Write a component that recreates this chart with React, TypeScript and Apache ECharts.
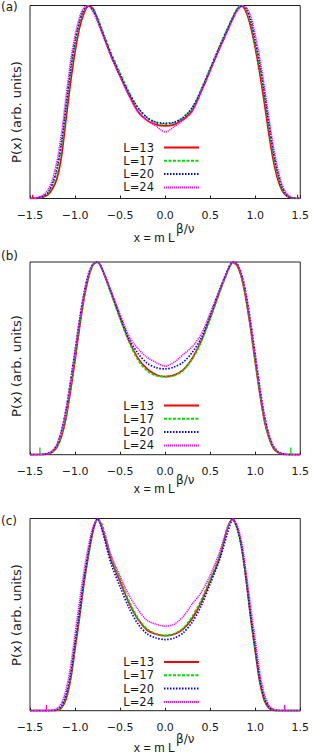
import React, { useEffect, useRef } from "react";
import * as echarts from "echarts";

// x positions shared by every curve (m L^{beta/nu})
const xGrid = [
  -1.5, -1.45, -1.4, -1.35, -1.3, -1.25, -1.2, -1.15, -1.1, -1.05, -1.0, -0.95, -0.9, -0.85, -0.8, -0.75,
  -0.7, -0.6, -0.5, -0.4, -0.3, -0.2, -0.1, 0, 0.1, 0.2, 0.3, 0.4, 0.5, 0.6, 0.7,
  0.75, 0.8, 0.85, 0.9, 0.95, 1.0, 1.05, 1.1, 1.15, 1.2, 1.25, 1.3, 1.35, 1.4, 1.45, 1.5,
];

const seriesNames = ["L=13", "L=17", "L=20", "L=24"];
const panelLabels = ["(a)", "(b)", "(c)"];

// Panel (a)
const a13 = [0, 0, 0.003, 0.008, 0.02, 0.05, 0.105, 0.22, 0.41, 0.6, 0.76, 0.885, 0.96, 0.998, 0.985, 0.93, 0.865, 0.74, 0.635, 0.535, 0.45, 0.405, 0.383, 0.376, 0.383, 0.41, 0.455, 0.555, 0.665, 0.775, 0.88, 0.935, 0.98, 0.998, 0.965, 0.89, 0.78, 0.65, 0.5, 0.34, 0.2, 0.1, 0.04, 0.012, 0.003, 0, 0];
const a17 = [0, 0, 0.004, 0.012, 0.028, 0.07, 0.14, 0.27, 0.46, 0.65, 0.8, 0.91, 0.975, 1.0, 0.98, 0.935, 0.875, 0.755, 0.65, 0.55, 0.468, 0.418, 0.393, 0.385, 0.392, 0.418, 0.468, 0.565, 0.675, 0.785, 0.89, 0.94, 0.985, 1.0, 0.975, 0.91, 0.8, 0.68, 0.535, 0.375, 0.23, 0.12, 0.05, 0.016, 0.004, 0, 0];
const a20 = [0, 0.001, 0.005, 0.014, 0.032, 0.08, 0.16, 0.295, 0.48, 0.67, 0.815, 0.92, 0.98, 0.998, 0.975, 0.925, 0.865, 0.745, 0.64, 0.545, 0.47, 0.42, 0.395, 0.39, 0.395, 0.42, 0.47, 0.56, 0.67, 0.78, 0.885, 0.935, 0.975, 0.998, 0.985, 0.925, 0.82, 0.7, 0.555, 0.395, 0.25, 0.135, 0.058, 0.02, 0.005, 0.001, 0];
const a24 = [0, 0.002, 0.008, 0.02, 0.045, 0.1, 0.195, 0.34, 0.53, 0.71, 0.845, 0.94, 0.99, 0.995, 0.965, 0.915, 0.855, 0.735, 0.63, 0.53, 0.445, 0.405, 0.375, 0.345, 0.372, 0.405, 0.45, 0.55, 0.66, 0.77, 0.875, 0.925, 0.97, 0.995, 0.99, 0.945, 0.85, 0.73, 0.585, 0.425, 0.275, 0.155, 0.07, 0.025, 0.007, 0.002, 0];
const spikeXA = [-1.47, 1.47];
const spikeYA = [0.02, 0.02];

// Panel (b)
const b13 = [0, 0, 0, 0.001, 0.004, 0.013, 0.04, 0.095, 0.19, 0.33, 0.49, 0.66, 0.81, 0.92, 0.985, 1.0, 0.965, 0.84, 0.71, 0.59, 0.5, 0.445, 0.415, 0.405, 0.413, 0.44, 0.5, 0.59, 0.71, 0.84, 0.96, 0.998, 0.98, 0.915, 0.8, 0.65, 0.48, 0.32, 0.18, 0.09, 0.035, 0.012, 0.003, 0.001, 0, 0, 0];
const b17 = [0, 0, 0, 0.001, 0.005, 0.015, 0.045, 0.105, 0.205, 0.35, 0.51, 0.675, 0.82, 0.925, 0.985, 0.998, 0.96, 0.835, 0.705, 0.585, 0.49, 0.435, 0.41, 0.405, 0.41, 0.438, 0.495, 0.585, 0.705, 0.835, 0.955, 0.995, 0.985, 0.92, 0.81, 0.66, 0.49, 0.33, 0.19, 0.095, 0.04, 0.014, 0.004, 0.001, 0, 0, 0];
const b20 = [0, 0, 0.001, 0.002, 0.007, 0.02, 0.055, 0.125, 0.235, 0.38, 0.54, 0.7, 0.84, 0.94, 0.99, 1.0, 0.965, 0.845, 0.72, 0.6, 0.525, 0.475, 0.452, 0.445, 0.455, 0.48, 0.53, 0.605, 0.725, 0.85, 0.965, 1.0, 0.99, 0.935, 0.83, 0.685, 0.52, 0.355, 0.21, 0.11, 0.047, 0.017, 0.005, 0.001, 0, 0, 0];
const b24 = [0, 0, 0.001, 0.002, 0.007, 0.02, 0.055, 0.125, 0.235, 0.38, 0.54, 0.7, 0.84, 0.935, 0.99, 0.998, 0.965, 0.85, 0.73, 0.615, 0.55, 0.505, 0.478, 0.46, 0.48, 0.52, 0.56, 0.625, 0.735, 0.85, 0.96, 0.998, 0.99, 0.93, 0.825, 0.68, 0.515, 0.35, 0.205, 0.105, 0.045, 0.016, 0.005, 0.001, 0, 0, 0];
const spikeXB = [-1.39, 1.395];
const spikeYB = [0.037, 0.037];

// Panel (c)
const c13 = [0, 0, 0, 0, 0, 0, 0.001, 0.015, 0.06, 0.16, 0.32, 0.485, 0.665, 0.81, 0.935, 0.998, 0.95, 0.785, 0.672, 0.56, 0.475, 0.42, 0.398, 0.39, 0.398, 0.425, 0.48, 0.565, 0.675, 0.79, 0.96, 0.998, 0.95, 0.85, 0.677, 0.48, 0.31, 0.15, 0.055, 0.015, 0.002, 0, 0, 0, 0, 0, 0];
const c17 = [0, 0, 0, 0, 0, 0, 0.002, 0.02, 0.075, 0.175, 0.34, 0.505, 0.68, 0.82, 0.94, 0.995, 0.97, 0.8, 0.685, 0.57, 0.48, 0.425, 0.4, 0.392, 0.4, 0.43, 0.49, 0.575, 0.685, 0.8, 0.965, 0.995, 0.945, 0.84, 0.68, 0.49, 0.32, 0.165, 0.065, 0.02, 0.004, 0, 0, 0, 0, 0, 0];
const c20 = [0, 0, 0, 0, 0, 0.002, 0.006, 0.025, 0.085, 0.19, 0.355, 0.52, 0.69, 0.83, 0.945, 0.998, 0.94, 0.765, 0.645, 0.535, 0.45, 0.4, 0.378, 0.37, 0.378, 0.405, 0.46, 0.545, 0.66, 0.78, 0.935, 0.995, 0.95, 0.85, 0.69, 0.5, 0.33, 0.17, 0.07, 0.022, 0.005, 0.001, 0, 0, 0, 0, 0];
const c24 = [0, 0, 0, 0, 0, 0.003, 0.012, 0.04, 0.11, 0.23, 0.4, 0.57, 0.73, 0.86, 0.955, 0.995, 0.955, 0.81, 0.7, 0.6, 0.525, 0.47, 0.45, 0.44, 0.45, 0.49, 0.555, 0.615, 0.705, 0.82, 0.96, 0.998, 0.965, 0.875, 0.72, 0.545, 0.37, 0.205, 0.09, 0.03, 0.008, 0.002, 0, 0, 0, 0, 0];
const spikeXC = [-1.318, 1.326];
const spikeYC = [0.03, 0.03];

const panelData = [
  { ys: [a13, a17, a20, a24], spikeX: spikeXA, spikeY: spikeYA, spikeSeries: 0 },
  { ys: [b13, b17, b20, b24], spikeX: spikeXB, spikeY: spikeYB, spikeSeries: 1 },
  { ys: [c13, c17, c20, c24], spikeX: spikeXC, spikeY: spikeYC, spikeSeries: 3 },
];

// layout (pixels)
const layout = [
  { top: 5.5, height: 193, legendTop: 141, yLabelY: 112, tagY: 7, xBaseY: 238, xSupY: 229 },
  { top: 262, height: 192.7, legendTop: 399, yLabelY: 366, tagY: 256, xBaseY: 489, xSupY: 480 },
  { top: 518.5, height: 192.2, legendTop: 655.5, yLabelY: 615, tagY: 521, xBaseY: 748, xSupY: 739 },
];

const styles = [
  { color: "#ff0000", type: "solid" as any, width: 1.7 },
  { color: "#00dd00", type: [3, 1.5] as any, width: 1.7 },
  { color: "#0000ff", type: [1.5, 1.5] as any, width: 1.7 },
  { color: "#ff00ff", type: [1.2, 0.8] as any, width: 1.5 },
];

const FONT = "DejaVu Sans";
const INK = "#1a1a1a";

function fmt(v: number) {
  return v.toFixed(1).replace("-", "\u2212");
}

export default function App() {
  const ref = useRef<HTMLDivElement>(null);
  useEffect(() => {
    if (!ref.current) return;
    const chart = echarts.init(ref.current, undefined, { renderer: "svg" });
    const grids: any[] = [];
    const xAxes: any[] = [];
    const yAxes: any[] = [];
    const series: any[] = [];
    const legends: any[] = [];
    const graphics: any[] = [];

    panelData.forEach((p, i) => {
      const L = layout[i];
      grids.push({
        left: 30,
        width: 272,
        top: L.top,
        height: L.height,
        show: true,
        borderColor: "#222",
        borderWidth: 1,
        backgroundColor: "transparent",
      });
      xAxes.push({
        type: "value",
        gridIndex: i,
        min: -1.5,
        max: 1.5,
        interval: 0.5,
        axisLine: { show: false },
        axisTick: { show: true, inside: true, length: 3, lineStyle: { color: "#222", width: 1 } },
        axisLabel: { margin: 11, formatter: fmt, fontFamily: FONT, fontSize: 11, color: INK },
        splitLine: { show: false },
      });
      yAxes.push({
        type: "value",
        gridIndex: i,
        min: 0,
        max: 1,
        axisLine: { show: false },
        axisTick: { show: false },
        axisLabel: { show: false },
        splitLine: { show: false },
      });
      p.ys.forEach((ys, j) => {
        const st = styles[j];
        series.push({
          type: "line",
          name: seriesNames[j],
          xAxisIndex: i,
          yAxisIndex: i,
          data: xGrid.map((x, k) => [x, ys[k]]),
          symbol: "none",
          showSymbol: false,
          smooth: 0.3,
          animation: false,
          silent: true,
          z: 2 + j,
          lineStyle: { color: st.color, width: st.width, type: st.type },
          itemStyle: { color: st.color },
        });
      });
      p.spikeX.forEach((sx, k) => {
        const st = styles[p.spikeSeries];
        series.push({
          type: "line",
          name: "edge" + i + k,
          xAxisIndex: i,
          yAxisIndex: i,
          data: [
            [sx, 0],
            [sx, p.spikeY[k]],
          ],
          symbol: "none",
          showSymbol: false,
          animation: false,
          silent: true,
          z: 6,
          lineStyle: { color: st.color, width: 1.3, type: "solid" },
        });
      });
      legends.push({
        data: seriesNames,
        orient: "vertical",
        align: "right",
        right: 112,
        top: L.legendTop,
        itemWidth: 35,
        itemHeight: 13,
        itemGap: 0.3,
        padding: 0,
        selectedMode: false,
        itemStyle: { color: "rgba(0,0,0,0)", borderWidth: 0, opacity: 0 },
        textStyle: {
          fontFamily: FONT,
          fontSize: 11.5,
          lineHeight: 13,
          color: INK,
          padding: [0, 5, 0, 0],
        },
      });
      graphics.push({
        type: "text",
        left: 1,
        top: L.tagY - 6,
        style: { text: panelLabels[i], font: `12px '${FONT}'`, fill: INK },
      });
      graphics.push({
        type: "text",
        x: 16,
        y: L.yLabelY,
        rotation: Math.PI / 2,
        style: {
          text: "P(x) (arb. units)",
          font: `13px '${FONT}'`,
          fill: INK,
          align: "center",
          verticalAlign: "middle",
          textAlign: "center",
          textVerticalAlign: "middle",
        },
      });
      graphics.push({
        type: "text",
        x: 175,
        y: L.xBaseY,
        style: {
          text: "x = m L",
          font: `12.5px 'Liberation Sans'`,
          fill: INK,
          align: "right",
          verticalAlign: "middle",
          textAlign: "right",
          textVerticalAlign: "middle",
        },
      });
      graphics.push({
        type: "text",
        x: 176,
        y: L.xSupY,
        style: {
          text: "\u03b2/\u03bd",
          font: `12px '${FONT}'`,
          fill: INK,
          align: "left",
          verticalAlign: "middle",
          textAlign: "left",
          textVerticalAlign: "middle",
        },
      });
    });

    chart.setOption({
      animation: false,
      backgroundColor: "#ffffff",
      grid: grids,
      xAxis: xAxes,
      yAxis: yAxes,
      series,
      legend: legends,
      graphic: graphics,
    });
    return () => chart.dispose();
  }, []);

  return (
    <div
      ref={ref}
      style={{ position: "fixed", left: 0, top: 0, width: 312, height: 755 }}
    />
  );
}
